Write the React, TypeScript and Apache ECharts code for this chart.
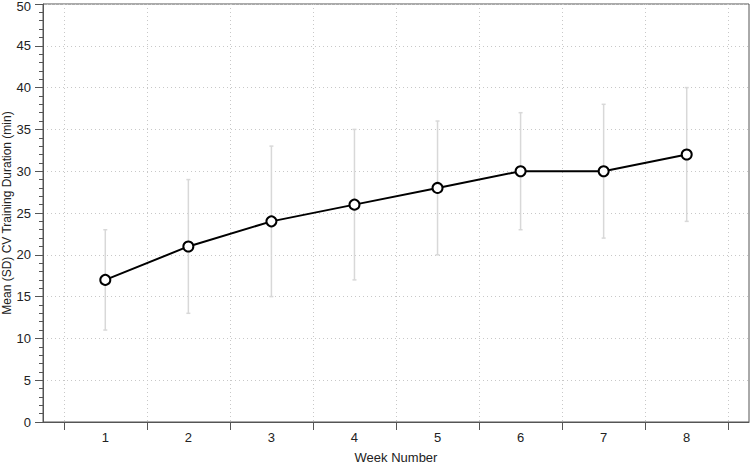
import React, { useEffect, useRef } from "react";
import * as echarts from "echarts";

const weeks = [1, 2, 3, 4, 5, 6, 7, 8];
const means = [17, 21, 24, 26, 28, 30, 30, 32];
const sds = [6, 8, 9, 9, 8, 7, 8, 8];
const tickPositions = [0.5, 1.5, 2.5, 3.5, 4.5, 5.5, 6.5, 7.5, 8.5];

export default function App() {
  const ref = useRef<HTMLDivElement>(null);
  useEffect(() => {
    if (!ref.current) return;
    const chart = echarts.init(ref.current, null, { renderer: "svg" });
    const font = "'Liberation Sans', Arial, Helvetica, sans-serif";
    const axisColor = "#555";
    const errData = weeks.map((w, i) => [w, means[i] - sds[i], means[i] + sds[i]]);
    chart.setOption({
      animation: false,
      backgroundColor: "#fff",
      grid: {
        left: 43,
        right: 1,
        top: 4,
        bottom: 43,
        containLabel: false,
        outerBoundsMode: "none",
        show: true,
        borderColor: axisColor,
        borderWidth: 1,
        backgroundColor: "transparent",
      },
      xAxis: {
        type: "value",
        min: 0.25,
        max: 8.75,
        name: "Week Number",
        nameLocation: "middle",
        nameGap: 29,
        nameTextStyle: { fontFamily: font, fontSize: 13, color: "#222" },
        axisLine: { show: true, lineStyle: { color: axisColor, width: 1 } },
        axisTick: { show: true, length: 8, customValues: tickPositions, lineStyle: { color: axisColor } },
        axisLabel: { customValues: weeks, fontFamily: font, fontSize: 13, color: "#222", margin: 9 },
        splitLine: { show: true, lineStyle: { color: "#c8c8c8", type: [1, 3], width: 1 } },
      },
      yAxis: {
        type: "value",
        min: 0,
        max: 50,
        interval: 5,
        name: "Mean (SD) CV Training Duration (min)",
        nameLocation: "middle",
        nameGap: 30,
        nameMoveOverlap: false,
        nameTextStyle: { fontFamily: font, fontSize: 12, color: "#222" },
        axisLine: { show: true, lineStyle: { color: axisColor, width: 1 } },
        axisTick: { show: true, length: 8, lineStyle: { color: axisColor } },
        minorTick: { show: true, splitNumber: 5, length: 4, lineStyle: { color: axisColor } },
        axisLabel: {
          fontFamily: font,
          fontSize: 13,
          color: "#222",
          margin: 12,
          formatter: (v: number) => (v === 50 ? "{top|50}" : String(v)),
          rich: { top: { fontFamily: font, fontSize: 13, color: "#222", padding: [4, 0, 0, 0] } },
        },
        splitLine: { show: true, lineStyle: { color: "#c8c8c8", type: [1, 3], width: 1 } },
      },
      series: [
        {
          type: "custom",
          z: 1,
          data: errData,
          renderItem: (params: any, api: any) => {
            const x = api.value(0);
            const lo = api.coord([x, api.value(1)]);
            const hi = api.coord([x, api.value(2)]);
            const cap = 2;
            const style = { stroke: "#d8d8d8", lineWidth: 1.5 };
            return {
              type: "group",
              children: [
                { type: "line", shape: { x1: lo[0], y1: lo[1], x2: hi[0], y2: hi[1] }, style },
                { type: "line", shape: { x1: lo[0] - cap, y1: lo[1], x2: lo[0] + cap, y2: lo[1] }, style },
                { type: "line", shape: { x1: hi[0] - cap, y1: hi[1], x2: hi[0] + cap, y2: hi[1] }, style },
              ],
            };
          },
        },
        {
          type: "line",
          z: 3,
          data: weeks.map((w, i) => [w, means[i]]),
          symbol: "circle",
          symbolSize: 10,
          showSymbol: true,
          lineStyle: { color: "#000", width: 2 },
          itemStyle: { color: "#fff", borderColor: "#000", borderWidth: 2 },
        },
      ],
    });
    return () => chart.dispose();
  }, []);
  return (
    <div
      ref={ref}
      style={{ position: "fixed", left: 0, top: 0, width: 750, height: 465, background: "#fff" }}
    />
  );
}
